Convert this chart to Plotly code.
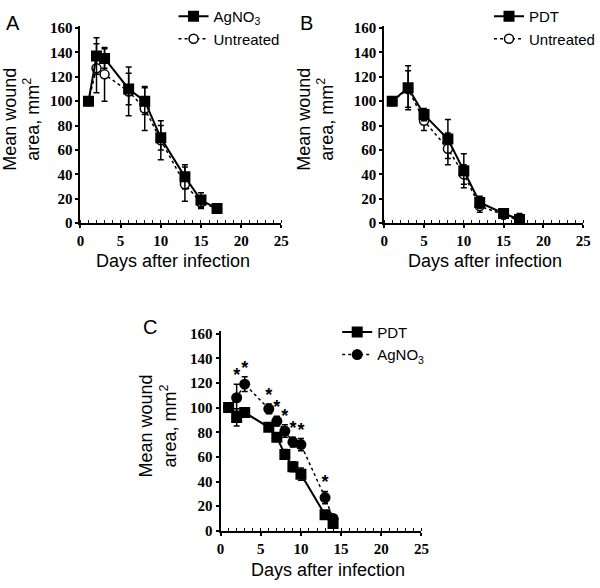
import plotly.graph_objects as go

# ---------------- data ----------------
# Panel A
a_days = [1, 2, 3, 6, 8, 10, 13, 15, 17]
a_agno3 = [100, 137, 135, 110, 100, 70, 38, 19, 12]
a_agno3_err = [0, 15, 8, 13, 11, 10, 10, 6, 0]
a_untr = [100, 127, 122, 108, 94, 68, 32, 17, 12]
a_untr_err = [0, 20, 22, 20, 18, 16, 14, 5, 0]

# Panel B
b_days = [1, 3, 5, 8, 10, 12, 15, 17]
b_pdt = [100, 111, 89, 69, 43, 17, 8, 3]
b_pdt_err = [0, 18, 5, 16, 14, 5, 3, 5]
b_untr = [100, 110, 84, 61, 40, 14, 7, 2]
b_untr_err = [0, 15, 8, 13, 8, 5, 2, 3]

# Panel C
c_days = [1, 2, 3, 6, 7, 8, 9, 10, 13, 14]
c_pdt = [100, 92, 96, 84, 76, 62, 52, 46, 13, 6]
c_pdt_err = [0, 7, 3, 3, 3, 4, 4, 5, 3, 3]
c_agno3 = [100, 108, 119, 99, 89, 81, 72, 70, 27, 10]
c_agno3_err = [0, 11, 6, 4, 4, 5, 4, 5, 5, 3]
c_sig = [False, True, True, True, True, True, True, True, True, False]

x_ticks = [0, 5, 10, 15, 20, 25]
y_ticks = [0, 20, 40, 60, 80, 100, 120, 140, 160]

W, H = 600, 588
fig = go.Figure()


def px_x(p):
    return p / W


def px_y(p):
    return 1 - p / H


def err(vals):
    return dict(type="data", array=vals, visible=True, color="black",
                thickness=1.5, width=3)


def add_pair(xa, ya, days, v1, e1, n1, v2, e2, n2, legend):
    fig.add_trace(go.Scatter(
        x=days, y=v2, error_y=err(e2), name=n2, mode="lines+markers",
        line=dict(color="black", width=1.5, dash="dot"),
        marker=dict(symbol="circle", size=9, color="white",
                    line=dict(color="black", width=1.5)),
        xaxis=xa, yaxis=ya, legend=legend, legendrank=2))
    fig.add_trace(go.Scatter(
        x=days, y=v1, error_y=err(e1), name=n1, mode="lines+markers",
        line=dict(color="black", width=2),
        marker=dict(symbol="square", size=11, color="black"),
        xaxis=xa, yaxis=ya, legend=legend, legendrank=1))


add_pair("x", "y", a_days, a_agno3, a_agno3_err, "AgNO<sub>3</sub>",
         a_untr, a_untr_err, "Untreated", "legend")
add_pair("x2", "y2", b_days, b_pdt, b_pdt_err, "PDT",
         b_untr, b_untr_err, "Untreated", "legend2")
# Panel C: AgNO3 circles dotted, PDT squares solid
fig.add_trace(go.Scatter(
    x=c_days, y=c_agno3, error_y=err(c_agno3_err), name="AgNO<sub>3</sub>",
    mode="lines+markers", line=dict(color="black", width=1.5, dash="dot"),
    marker=dict(symbol="circle", size=11, color="black"),
    xaxis="x3", yaxis="y3", legend="legend3", legendrank=2))
fig.add_trace(go.Scatter(
    x=c_days, y=c_pdt, error_y=err(c_pdt_err), name="PDT",
    mode="lines+markers", line=dict(color="black", width=2),
    marker=dict(symbol="square", size=11, color="black"),
    xaxis="x3", yaxis="y3", legend="legend3", legendrank=1))

star_x = [d for d, s in zip(c_days, c_sig) if s]
star_y = [v + e + 6 for v, e, s in zip(c_agno3, c_agno3_err, c_sig) if s]
fig.add_trace(go.Scatter(
    x=star_x, y=star_y, mode="text", text=["*"] * len(star_x),
    textposition="middle center",
    textfont=dict(family="Liberation Sans", size=18, color="black", weight=700),
    showlegend=False, xaxis="x3", yaxis="y3", hoverinfo="skip"))

tickfont = dict(family="Liberation Serif", size=15, color="black", weight=700)

panels = {
    "": ([78, 283], [218, 13]),
    "2": ([388, 591], [218, 13]),
    "3": ([221, 426], [537, 330]),
}
layout = {}
for k, (xr, yr) in panels.items():
    layout["xaxis" + k] = dict(
        domain=[px_x(xr[0]), px_x(xr[1])], range=[0, 25],
        anchor="y" + k, tickvals=x_ticks,
        ticks="outside", ticklen=3, tickwidth=1.5, tickcolor="black",
        minor=dict(dtick=1, ticks="inside", ticklen=3, tickwidth=1.2,
                   tickcolor="black"),
        showline=True, linecolor="black", linewidth=2, showgrid=False,
        zeroline=False, tickfont=tickfont, fixedrange=True)
    layout["yaxis" + k] = dict(
        domain=[px_y(yr[0]), px_y(yr[1])], range=[0, 162],
        anchor="x" + k, tickvals=y_ticks,
        ticks="outside", ticklen=3, tickwidth=1.5, tickcolor="black",
        showline=True, linecolor="black", linewidth=2, showgrid=False,
        zeroline=False, tickfont=tickfont, fixedrange=True)

legfont = dict(family="Liberation Sans", size=15, color="black")
leg_common = dict(font=legfont, bgcolor="rgba(0,0,0,0)", tracegroupgap=0,
                  xanchor="left", yanchor="top", itemwidth=30,
                  traceorder="normal")

fig.update_layout(
    width=W, height=H, margin=dict(l=0, r=0, t=0, b=0),
    paper_bgcolor="white", plot_bgcolor="white",
    legend=dict(x=px_x(173), y=px_y(-14), **leg_common),
    legend2=dict(x=px_x(495), y=px_y(-14), **leg_common),
    legend3=dict(x=px_x(340), y=px_y(314), **leg_common),
    **layout,
)

title_font = dict(family="Liberation Sans", size=18, color="black")
anns = []
# y-titles
for xc, yc in [(17, 110), (317, 110), (157, 428)]:
    anns.append(dict(x=px_x(xc), y=px_y(yc), xref="paper", yref="paper",
                     text="Mean wound<br>area, mm<sup>2</sup>", textangle=-90,
                     showarrow=False, font=title_font, xanchor="center",
                     yanchor="middle"))
# x-titles
for xc, yc in [(172, 257), (491, 257), (331, 578)]:
    anns.append(dict(x=px_x(xc), y=px_y(yc), xref="paper", yref="paper",
                     text="Days after infection", showarrow=False,
                     font=title_font, xanchor="center", yanchor="middle"))
# panel letters
for lab, xc, yc in [("A", 9, 10), ("B", 309, 10), ("C", 149, 326)]:
    anns.append(dict(x=px_x(xc), y=px_y(yc), xref="paper", yref="paper",
                     text=lab, showarrow=False,
                     font=dict(family="Liberation Sans", size=20, color="black"),
                     xanchor="center", yanchor="middle"))
fig.update_layout(annotations=anns)

fig.write_html("out.html", config={"displayModeBar": False},
               post_script="document.body.style.margin='0';"
                           "document.body.style.overflow='hidden';")
